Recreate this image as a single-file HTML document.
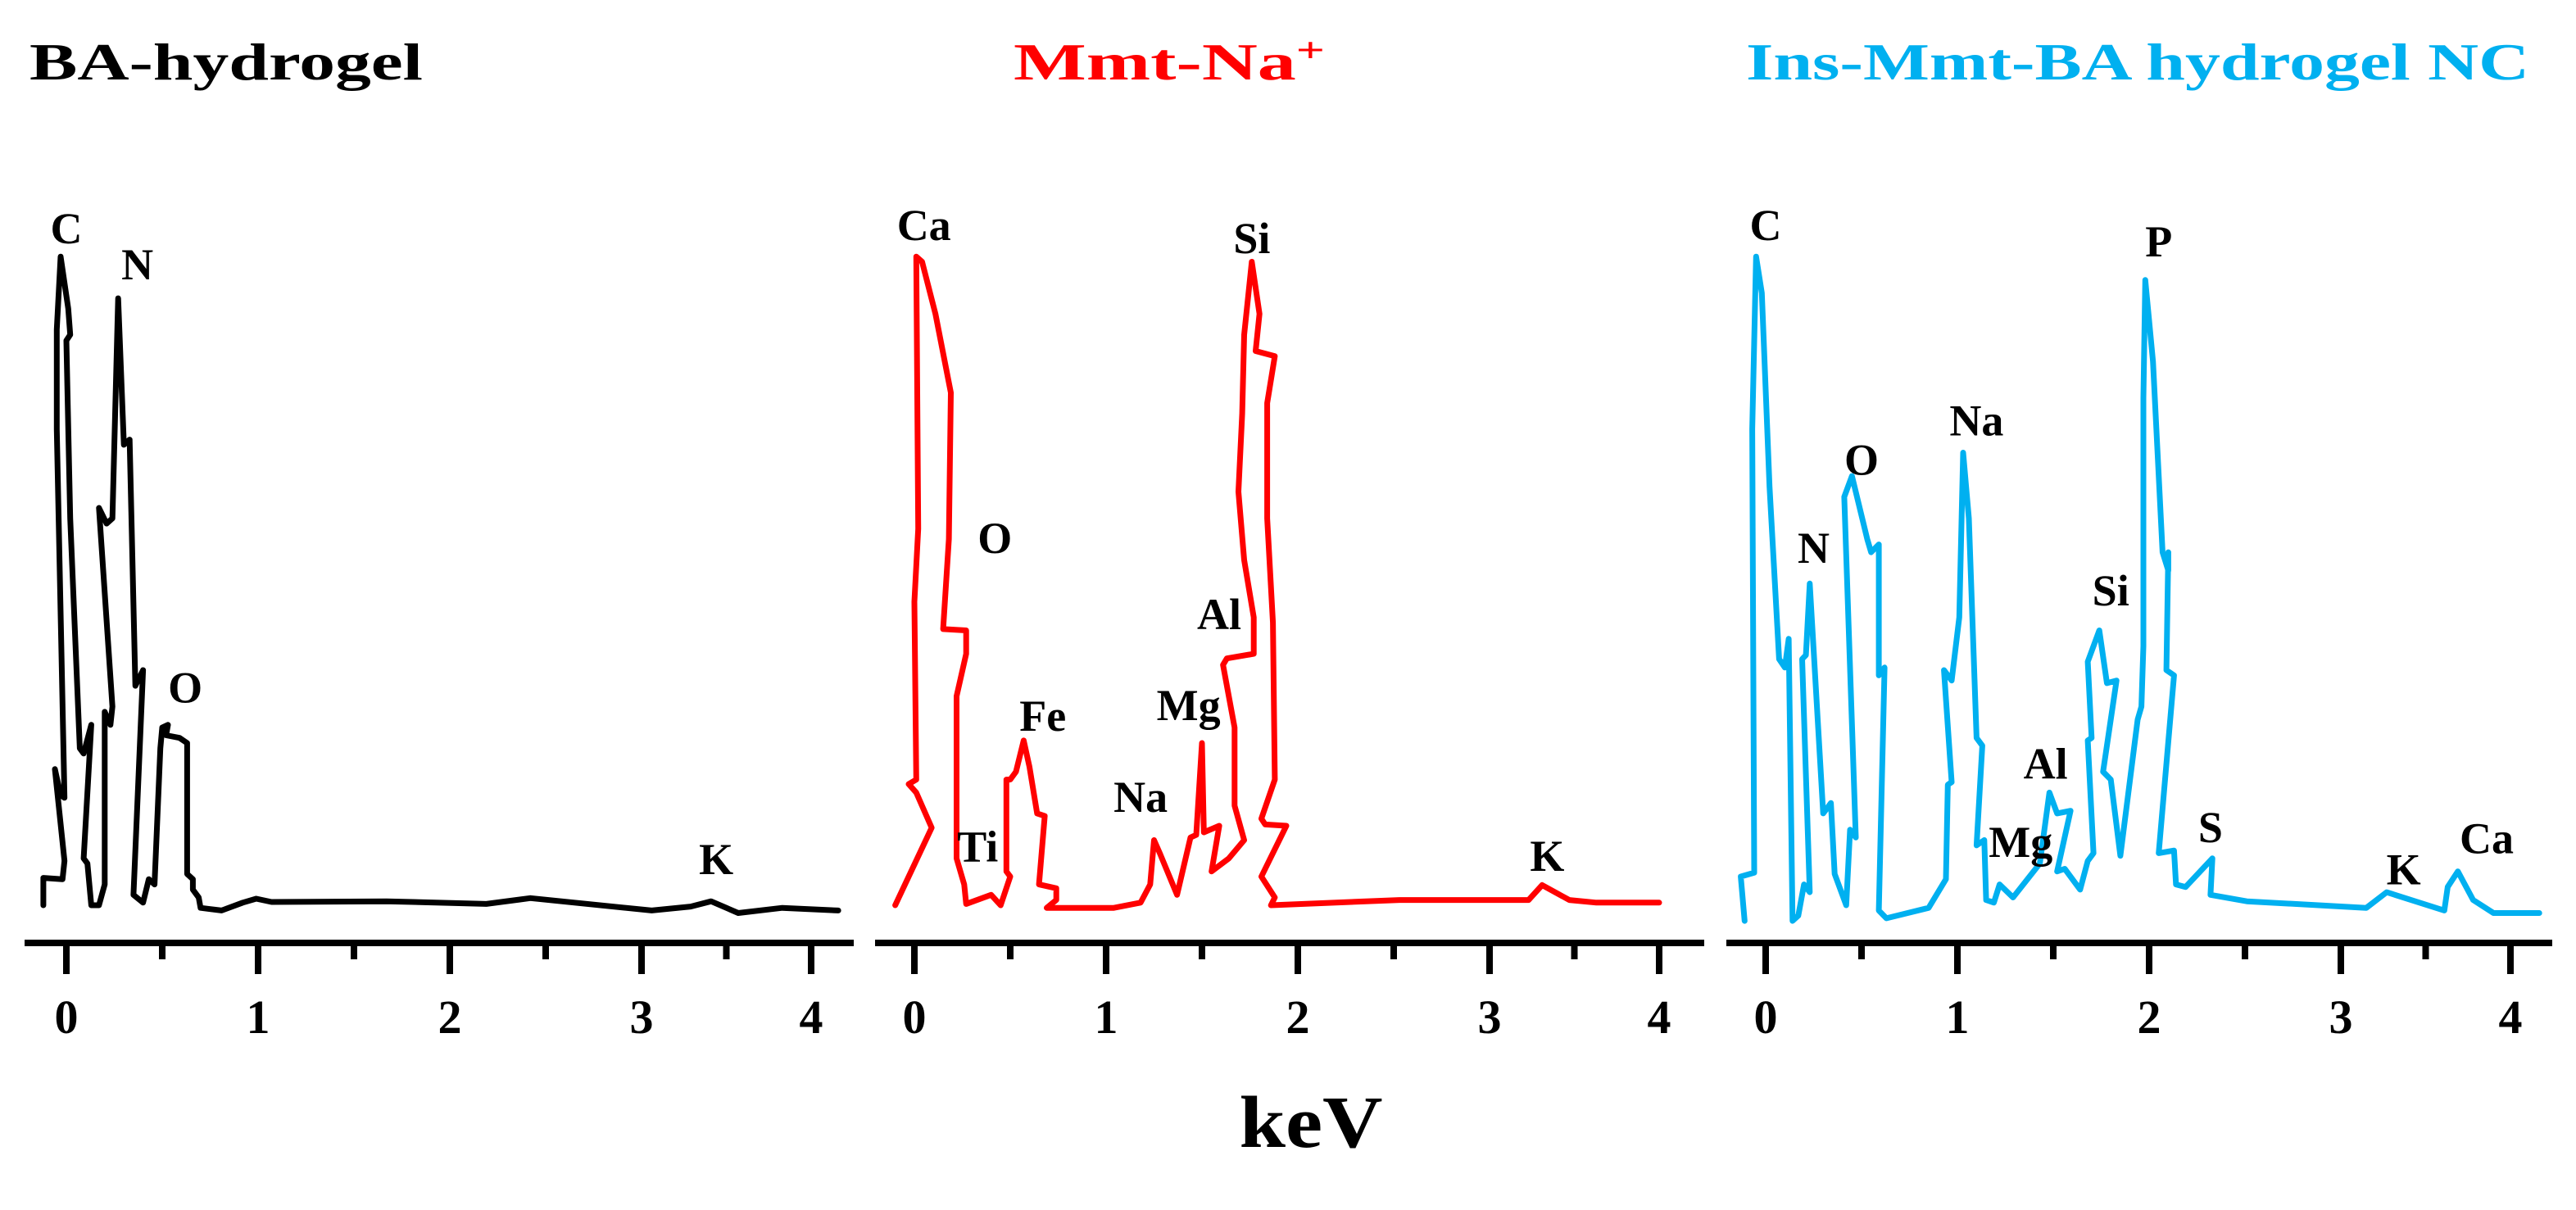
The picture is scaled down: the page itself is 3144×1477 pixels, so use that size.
<!DOCTYPE html>
<html><head><meta charset="utf-8"><style>
html,body{margin:0;padding:0;background:#fff;}
svg{display:block;font-family:"Liberation Serif",serif;font-weight:bold;}
</style></head><body>
<svg id="chart" width="3144" height="1477" viewBox="0 0 3144 1477" xmlns="http://www.w3.org/2000/svg">
<rect width="3144" height="1477" fill="#fff"/>
<text x="36" y="97" font-size="64" textLength="480" lengthAdjust="spacingAndGlyphs" fill="#000">BA-hydrogel</text>
<text x="1237" y="97" font-size="64" textLength="380" lengthAdjust="spacingAndGlyphs" fill="#ff0000">Mmt-Na<tspan font-size="42" dy="-22">+</tspan></text>
<text x="2131" y="97" font-size="64" textLength="956" lengthAdjust="spacingAndGlyphs" fill="#00b0f0">Ins-Mmt-BA hydrogel NC</text>
<text x="1600" y="1400" font-size="90" text-anchor="middle" textLength="175" lengthAdjust="spacingAndGlyphs" fill="#000">keV</text>
<g id="panels"></g>
</svg>
<script>
const tickValues = [0, 1, 2, 3, 4];
const minorTickValues = [0.5, 1.5, 2.5, 3.5];
const tickLabels = ["0", "1", "2", "3", "4"];

const baKeV = [-0.12,-0.12,-0.02,-0.01,-0.06,-0.03,-0.01,-0.05,-0.05,-0.03,0.01,0.02,0.00,0.02,0.07,0.09,0.13,0.09,0.11,0.13,0.17,0.20,0.20,0.23,0.24,0.17,0.21,0.24,0.27,0.30,0.33,0.36,0.40,0.35,0.40,0.43,0.46,0.49,0.50,0.53,0.52,0.59,0.63,0.63,0.66,0.66,0.69,0.70,0.81,0.92,0.99,1.07,1.67,2.19,2.42,3.06,3.29,3.41,3.57,3.83,4.16];
const baCounts = [0,4.2,4.0,6.8,20.9,16.9,16.5,73.1,88.4,99.6,91.6,87.6,86.7,59.4,24.1,23.3,27.7,7.2,6.4,0,0,3.2,29.7,27.7,30.5,61.0,58.6,59.4,93.2,70.7,71.5,33.7,36.1,1.6,0.4,4.0,3.2,24.1,27.3,27.7,26.1,25.7,24.9,4.8,4.0,2.4,1.2,-0.4,-0.8,0.4,1.0,0.5,0.6,0.2,1.1,-0.8,-0.2,0.6,-1.2,-0.4,-0.8];

const mmtKeV = [-0.10,0.09,0.01,-0.03,0.01,0.00,0.02,0.01,0.04,0.11,0.19,0.18,0.15,0.27,0.27,0.22,0.22,0.26,0.27,0.40,0.45,0.50,0.48,0.48,0.50,0.53,0.57,0.60,0.64,0.68,0.65,0.74,0.74,0.69,1.04,1.18,1.23,1.25,1.28,1.37,1.44,1.47,1.50,1.51,1.59,1.55,1.64,1.72,1.67,1.67,1.61,1.63,1.77,1.77,1.72,1.69,1.71,1.72,1.76,1.80,1.78,1.88,1.84,1.84,1.87,1.88,1.81,1.83,1.94,1.81,1.88,1.86,2.53,3.23,3.31,3.47,3.63,4.00];
const mmtCounts = [0,11.9,17.3,18.6,19.3,46.6,57.8,99.6,98.8,90.8,78.7,56.2,42.4,42.2,38.6,32.1,7.2,3.2,0.2,1.6,0,4.4,5.2,19.3,19.3,20.5,25.3,21.3,14.1,13.7,3.2,2.6,0.8,-0.4,-0.4,0.4,3.2,10.0,8.0,1.6,10.4,10.8,24.9,11.2,12.2,5.2,7.2,10.0,15.3,27.3,36.9,37.9,38.6,44.2,53.0,63.5,75.5,87.6,98.8,90.8,85.1,84.3,77.1,59.4,43.4,19.3,13.3,12.4,12.2,4.4,1.2,0,0.8,0.8,3.1,0.8,0.4,0.4];

const insKeV = [-0.11,-0.13,-0.06,-0.07,-0.05,-0.02,0.02,0.07,0.10,0.12,0.14,0.17,0.20,0.23,0.19,0.21,0.23,0.30,0.34,0.36,0.42,0.44,0.47,0.41,0.45,0.53,0.55,0.59,0.59,0.62,0.59,0.63,0.85,0.94,0.95,0.97,0.93,0.97,1.01,1.03,1.06,1.10,1.13,1.10,1.14,1.15,1.19,1.22,1.29,1.43,1.48,1.52,1.59,1.52,1.56,1.64,1.68,1.71,1.68,1.70,1.68,1.74,1.78,1.83,1.76,1.80,1.85,1.94,1.96,1.97,1.97,1.98,2.02,2.07,2.10,2.10,2.09,2.13,2.05,2.13,2.14,2.19,2.33,2.32,2.51,3.15,3.27,3.61,3.63,3.69,3.78,3.90,4.17];
const insCounts = [-2.4,4.4,5.0,73.1,99.6,94.0,64.3,37.8,36.5,40.9,-2.4,-1.6,3.2,2.0,37.8,38.4,49.4,14.1,15.7,4.8,0,11.6,10.4,62.7,65.9,56.2,54.2,55.4,35.3,36.5,-0.8,-2.0,-0.4,4.0,18.5,18.9,36.1,34.5,44.2,69.5,59.4,25.7,24.5,9.2,10.0,0.8,0.4,3.2,1.2,6.4,17.3,14.1,14.5,5.2,5.6,2.4,6.8,8.0,25.3,25.7,37.4,42.2,34.1,34.5,20.5,19.3,7.6,28.5,30.5,39.8,77.9,96.0,83.5,54.2,51.4,54.2,36.1,35.3,8.0,8.4,3.2,2.8,7.2,1.6,0.6,-0.4,2.0,-0.8,2.8,5.2,0.8,-1.2,-1.2];

const baLabels = ["C","N","O","K"];
const baLabelKeV = [0.00,0.37,0.62,3.44];
const baLabelCounts = [104,98.5,33.5,7.2];
const mmtLabels = ["Ca","Si","O","Al","Fe","Mg","Na","Ti","K"];
const mmtLabelKeV = [0.05,1.76,0.42,1.59,0.67,1.43,1.18,0.33,3.34];
const mmtLabelCounts = [104.5,102.5,56.5,44.8,29.2,30.8,16.7,9.1,7.7];
const insLabels = ["C","P","N","O","Na","Si","Al","Mg","S","K","Ca"];
const insLabelKeV = [0.00,2.05,0.25,0.50,1.10,1.80,1.46,1.33,2.32,3.37,3.86];
const insLabelCounts = [104.5,102.0,55.0,68.5,74.5,48.4,21.8,9.8,12.1,5.6,10.4];

const AXIS_Y = 1151, BASE_Y = 1105, Y_PER = 7.95;
function xScale(v){ return v <= 3 ? v * 234 : 702 + (v - 3) * 207; }
function yScale(c){ return BASE_Y - c * Y_PER; }

const panels = [
  {name:"ba-hydrogel", x0:81, axisL:30, axisR:1042, color:"#000000", keV:baKeV, counts:baCounts, labs:baLabels, lk:baLabelKeV, lc:baLabelCounts, w:7},
  {name:"mmt-na", x0:1116, axisL:1068, axisR:2080, color:"#ff0000", keV:mmtKeV, counts:mmtCounts, labs:mmtLabels, lk:mmtLabelKeV, lc:mmtLabelCounts, w:7},
  {name:"ins-mmt-ba", x0:2155, axisL:2107, axisR:3115, color:"#00b0f0", keV:insKeV, counts:insCounts, labs:insLabels, lk:insLabelKeV, lc:insLabelCounts, w:7}
];
const NS = "http://www.w3.org/2000/svg";
const root = document.getElementById("panels");
function mk(tag, attrs, parent){
  const e = document.createElementNS(NS, tag);
  for (const k in attrs) e.setAttribute(k, attrs[k]);
  parent.appendChild(e);
  return e;
}
panels.forEach(p => {
  const g = mk("g", {}, root);
  
  
  const ax = mk("rect", {x:p.axisL, y:AXIS_Y-4, width:p.axisR-p.axisL, height:8, fill:"#000"}, g);
  
  
  tickValues.forEach((t, i) => {
    const x = p.x0 + xScale(t);
    const tk = mk("rect", {x:x-4, y:AXIS_Y, width:8, height:38, fill:"#000"}, g);
    
    
    const tl = mk("text", {x:x, y:1261, "font-size":58, "text-anchor":"middle", fill:"#000"}, g);
    tl.textContent = tickLabels[i];
    
    
  });
  minorTickValues.forEach(t => {
    const x = p.x0 + xScale(t);
    const mt = mk("rect", {x:x-4, y:AXIS_Y, width:8, height:20, fill:"#000"}, g);
    
    
  });
  const pts = p.keV.map((v, i) => (p.x0 + xScale(v)).toFixed(1) + "," + yScale(p.counts[i]).toFixed(1)).join(" ");
  const line = mk("polyline", {points:pts, fill:"none", stroke:p.color, "stroke-width":p.w, "stroke-linejoin":"round", "stroke-linecap":"round"}, g);
  
  
  p.labs.forEach((s, i) => {
    const t = mk("text", {x:p.x0 + xScale(p.lk[i]), y:yScale(p.lc[i]) + 19, "font-size":54, "text-anchor":"middle", fill:"#000"}, g);
    t.textContent = s;
    
    
  });
});
</script>
</body></html>
